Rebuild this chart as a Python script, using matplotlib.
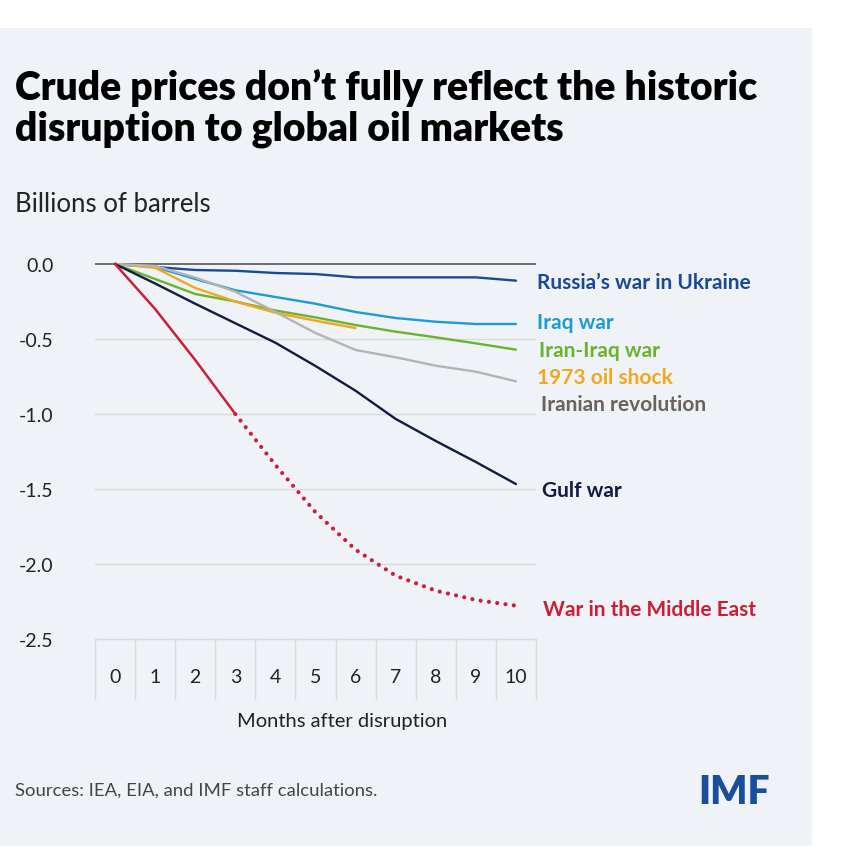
import numpy as np
import matplotlib.pyplot as plt
from matplotlib.patches import Rectangle

# months after disruption
months = list(range(11))
month_labels = [str(m) for m in months]

# billions of barrels
russia = [0, -0.02, -0.04, -0.045, -0.06, -0.067, -0.089, -0.089, -0.089, -0.089, -0.111]
iraq = [0, -0.02, -0.1, -0.175, -0.22, -0.265, -0.32, -0.36, -0.385, -0.4, -0.4]
iran_iraq = [0, -0.1, -0.2, -0.25, -0.31, -0.356, -0.407, -0.451, -0.489, -0.529, -0.571]
oil_shock = [0, -0.025, -0.16, -0.25, -0.325, -0.378, -0.427]
iran_rev = [0, -0.013, -0.09, -0.185, -0.32, -0.46, -0.573, -0.622, -0.678, -0.718, -0.782]
gulf = [0, -0.13, -0.265, -0.395, -0.525, -0.68, -0.845, -1.033, -1.18, -1.32, -1.467]
mideast_actual = [0, -0.3, -0.64, -1.0]
mideast_proj = [-1.0, -1.34, -1.655, -1.905, -2.078, -2.178, -2.24, -2.278]

yticks = [0, -0.5, -1.0, -1.5, -2.0, -2.5]
ytick_labels = ['0.0', '-0.5', '-1.0', '-1.5', '-2.0', '-2.5']

BG = '#eff2f6'
W = 862
FONT = 'Lato'

fig = plt.figure(figsize=(8.62, 8.62), dpi=100)
fig.patch.set_facecolor('white')
fig.patches.append(Rectangle((0, 1 - 847 / W), 812 / W, (847 - 29) / W,
                             transform=fig.transFigure, facecolor=BG,
                             edgecolor='none', zorder=-10))

def px(x, y):
    return x / W, 1 - y / W

ax = fig.add_axes([95 / W, 1 - 700 / W, 441 / W, 450 / W])
ax.set_zorder(5)
ax.set_facecolor('none')
ax.set_xlim(-0.5, 10.5)
ax.set_ylim(-2.9, 0.1)
for s in ax.spines.values():
    s.set_visible(False)
ax.set_xticks([])
ax.set_yticks(yticks)
ax.set_yticklabels(ytick_labels, fontsize=14, family=FONT, color='#222222')
ax.tick_params(axis='y', length=0, pad=30)

# gridlines
for v in yticks[1:]:
    ax.axhline(v, color='#d9dadc', lw=1, zorder=1)
ax.axhline(0, color='#555555', lw=1.2, zorder=1)

# x-axis cells
for b in np.arange(-0.5, 11, 1):
    ax.plot([b, b], [-2.5, -2.9], color='#d9dadc', lw=1, zorder=1, clip_on=False)
for m, lab in zip(months, month_labels):
    ax.text(m, -2.748, lab, ha='center', va='center', fontsize=14,
            family=FONT, color='#222222')

series = [
    (russia, '#1b4a94', "Russia\u2019s war in Ukraine", 536.7, 289),
    (iraq, '#1e9bd7', 'Iraq war', 536.7, 329.3),
    (iran_iraq, '#6ab42d', 'Iran-Iraq war', 539, 357.3),
    (oil_shock, '#f1a81c', '1973 oil shock', 537.3, 384.3),
    (iran_rev, '#b4b4b4', 'Iranian revolution', 540.7, 411),
    (gulf, '#111c45', 'Gulf war', 542.3, 497.3),
]
label_colors = {'Iranian revolution': '#6b625b'}

for vals, col, name, lx, ly in series:
    ax.plot(months[:len(vals)], vals, color=col, lw=1.7, zorder=3,
            solid_capstyle='round')
    fig.text(*px(lx, ly), name, fontsize=15, fontweight='bold', family=FONT,
             color=label_colors.get(name, col), va='baseline', ha='left')

red = '#cc1f36'
ax.plot(months[:4], mideast_actual, color=red, lw=1.8, zorder=4)
ax.plot(months[3:], mideast_proj, color=red, lw=3.0, zorder=4,
        linestyle=(0, (0.01, 2.0)), dash_capstyle='round')
fig.text(*px(543.3, 615.7), 'War in the Middle East', fontsize=15,
         fontweight='bold', family=FONT, color=red, va='baseline', ha='left')

# titles and notes
fig.text(*px(15, 100), "Crude prices don\u2019t fully reflect the historic",
         fontsize=28.2, fontweight='heavy', family=FONT, color='black', va='baseline')
fig.text(*px(15, 141), 'disruption to global oil markets',
         fontsize=28.2, fontweight='heavy', family=FONT, color='black', va='baseline')
fig.text(*px(15, 212), 'Billions of barrels', fontsize=18.5, family=FONT,
         color='#222222', va='baseline')
fig.text(*px(342, 722), 'Months after disruption', fontsize=14.5, family=FONT,
         color='#222222', ha='center', va='center')
fig.text(*px(15, 796), 'Sources: IEA, EIA, and IMF staff calculations.',
         fontsize=13.3, family=FONT, color='#444444', va='baseline')
fig.text(*px(698, 804), 'IMF', fontsize=28, fontweight='heavy', family=FONT,
         color='#1a4d9c', va='baseline')

fig.savefig('out.png', dpi=100, facecolor=fig.get_facecolor())
